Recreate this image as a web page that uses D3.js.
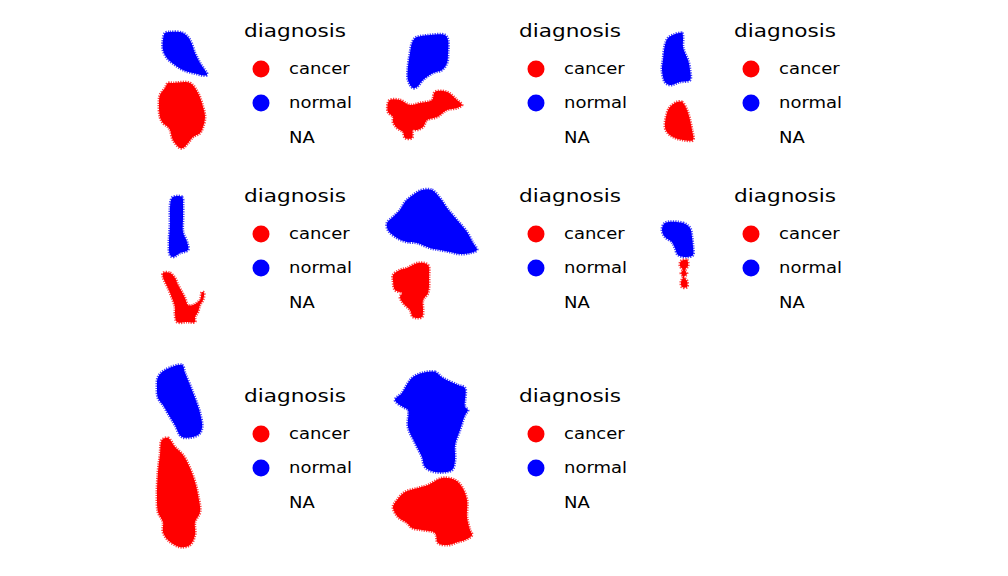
<!DOCTYPE html>
<html>
<head>
<meta charset="utf-8">
<script src="https://cdn.jsdelivr.net/npm/d3@7"></script>
<style>
  body { margin: 0; background: #fff; }
  text { font-family: "DejaVu Sans", sans-serif; fill: #000; }
</style>
</head>
<body>
<div id="vis"></div>
<script>
// tissue outlines per sample, in spot units relative to each panel
let normalShapes = [
  [[15,13],[20,12],[33,13],[40,20],[45,33],[50,43],[57,55],[43,53],[33,50],[25,45],[17,38],[13,30],[13,20]],
  [[37,17],[50,15],[65,15],[68,20],[68,33],[67,43],[62,50],[53,53],[43,60],[37,67],[33,68],[28,60],[28,47],[30,33],[32,23],[35,18]],
  [[23,15],[32,13],[33,18],[33,27],[35,33],[38,40],[40,50],[40,60],[30,62],[20,65],[15,62],[12,50],[13,40],[15,25],[18,18]],
  [[23,17],[32,17],[33,25],[33,38],[33,52],[37,62],[38,70],[30,73],[23,77],[20,75],[19,62],[20,45],[20,28],[21,20]],
  [[42,10],[52,10],[60,18],[67,28],[77,40],[87,52],[93,63],[97,70],[90,73],[80,74],[70,72],[60,70],[50,68],[37,63],[27,62],[17,58],[8,50],[7,43],[13,37],[20,30],[25,22],[33,15]],
  [[15,43],[33,43],[40,48],[42,57],[43,67],[43,75],[37,77],[28,75],[25,68],[22,62],[15,57],[12,50]],
  [[15,15],[32,10],[35,18],[40,30],[45,43],[50,58],[52,73],[48,80],[32,82],[25,70],[20,62],[13,50],[8,43],[7,32],[8,22]],
  [[42,18],[55,17],[63,23],[78,30],[85,33],[85,52],[88,55],[85,60],[80,75],[75,90],[75,105],[72,115],[55,117],[45,112],[42,102],[35,88],[28,72],[28,55],[23,52],[15,45],[22,38],[28,28],[33,22]]
];

let cancerShapes = [
  [[23,63],[40,63],[48,73],[53,87],[55,97],[53,107],[50,113],[43,117],[38,123],[33,128],[30,128],[23,120],[20,110],[18,107],[13,103],[10,97],[9,83],[10,75],[15,68],[18,63]],
  [[10,80],[20,80],[30,85],[40,83],[52,80],[55,72],[67,72],[77,80],[82,85],[77,88],[67,90],[57,97],[47,100],[43,107],[37,110],[33,110],[32,118],[25,118],[23,112],[17,108],[13,102],[13,97],[8,92],[8,83]],
  [[27,82],[32,82],[37,90],[40,100],[42,110],[43,120],[33,120],[23,117],[17,112],[15,107],[17,93],[20,87]],
  [[13,93],[20,93],[25,98],[28,105],[32,112],[35,118],[38,125],[43,125],[50,120],[52,112],[54,113],[53,120],[50,125],[48,132],[45,137],[45,142],[37,142],[27,142],[25,133],[25,127],[22,118],[18,108],[15,102],[13,97]],
  [[38,83],[48,85],[49,97],[48,113],[43,120],[43,130],[42,137],[33,137],[30,130],[23,123],[20,117],[22,113],[15,110],[13,100],[13,95],[20,90],[27,88]],
  [[31,81],[37,80],[38,86],[35,90],[37,94],[34,97],[37,101],[37,107],[32,107],[31,102],[33,97],[31,93],[33,90],[30,86]],
  [[12,85],[18,83],[25,92],[33,100],[40,113],[45,127],[48,140],[50,157],[45,167],[45,180],[40,190],[30,192],[18,185],[13,177],[13,167],[8,157],[7,140],[8,117],[10,100]],
  [[62,123],[75,125],[82,132],[87,145],[87,162],[90,175],[92,180],[85,185],[78,187],[68,190],[58,188],[55,178],[42,175],[32,173],[27,168],[18,162],[13,152],[17,145],[25,137],[38,133],[48,130]]
];

let legendTitle = "diagnosis";
let legendLabels = ["cancer", "normal", "NA"];

// layout
let colX = [150, 380, 650],
  rowY = [20, 180, 355],
  legendX = [244, 519, 734],
  legendTitleY = [31, 196, 396];

let color = d3.scaleOrdinal()
  .domain(["cancer", "normal", "NA"])
  .range(["#ff0000", "#0000ff", "none"]);

let svg = d3.select('#vis')
  .append('svg')
  .attr('width', 1008)
  .attr('height', 576);

normalShapes.forEach(function(shape, i) {
  let col = i % 3, row = Math.floor(i / 3);

  // spot coordinate scales for this panel
  let x = d3.scaleLinear().domain([0, 100]).range([colX[col], colX[col] + 100]);
  let y = d3.scaleLinear().domain([0, 200]).range([rowY[row], rowY[row] + 200]);

  let line = d3.line()
    .x(function(d) { return x(d[0]); })
    .y(function(d) { return y(d[1]); })
    .curve(d3.curveCatmullRomClosed.alpha(0.5));

  let g = svg.append('g');

  [["normal", shape], ["cancer", cancerShapes[i]]].forEach(function(p) {
    // solid body
    g.append('path')
      .attr('d', line(p[1]))
      .attr('fill', color(p[0]));
    // ragged spot edge
    g.append('path')
      .attr('d', line(p[1]))
      .attr('fill', 'none')
      .attr('stroke', color(p[0]))
      .attr('stroke-width', 3)
      .attr('stroke-dasharray', '1.2 1.2')
      .attr('stroke-opacity', 0.75);
  });

  // legend
  let lx = legendX[col], ty = legendTitleY[row];
  let leg = svg.append('g');

  leg.append('text')
    .attr('transform', 'translate(' + lx + ',' + (ty + 6) + ') scale(1.2,1)')
    .style('font-size', '18px')
    .text(legendTitle);

  let offsets = [38, 72, 107];
  legendLabels.forEach(function(lab, k) {
    let cy = ty + offsets[k];
    if (color(lab) !== "none") {
      leg.append('circle')
        .attr('cx', lx + 17)
        .attr('cy', cy)
        .attr('r', 8.5)
        .attr('fill', color(lab));
    }
    leg.append('text')
      .attr('transform', 'translate(' + (lx + 45) + ',' + (cy + 5) + ') scale(1.2,1)')
      .style('font-size', '15px')
      .text(lab);
  });
});
</script>
</body>
</html>
